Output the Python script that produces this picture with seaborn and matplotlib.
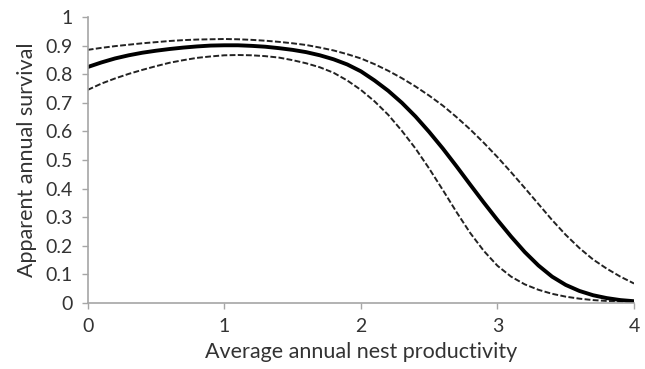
import matplotlib
matplotlib.use("Agg")
import matplotlib.pyplot as plt
import seaborn as sns
import pandas as pd

# Average annual nest productivity
productivity = [0.0, 0.1, 0.2, 0.3, 0.4, 0.5, 0.6, 0.7, 0.8, 0.9,
                1.0, 1.1, 1.2, 1.3, 1.4, 1.5, 1.6, 1.7, 1.8, 1.9,
                2.0, 2.1, 2.2, 2.3, 2.4, 2.5, 2.6, 2.7, 2.8, 2.9,
                3.0, 3.1, 3.2, 3.3, 3.4, 3.5, 3.6, 3.7, 3.8, 3.9, 4.0]
# Apparent annual survival: estimate
survival = [0.825, 0.841, 0.855, 0.866, 0.875, 0.882, 0.888, 0.893, 0.897, 0.900,
            0.901, 0.901, 0.899, 0.896, 0.891, 0.885, 0.877, 0.866, 0.852, 0.834,
            0.810, 0.778, 0.742, 0.700, 0.652, 0.598, 0.540, 0.478, 0.414, 0.351,
            0.290, 0.232, 0.178, 0.131, 0.092, 0.063, 0.042, 0.027, 0.017, 0.010, 0.006]
# Upper confidence bound
upper_ci = [0.885, 0.892, 0.898, 0.903, 0.908, 0.912, 0.916, 0.919, 0.921, 0.922,
            0.923, 0.922, 0.920, 0.917, 0.913, 0.908, 0.902, 0.893, 0.883, 0.870,
            0.855, 0.835, 0.812, 0.786, 0.757, 0.725, 0.690, 0.650, 0.607, 0.560,
            0.510, 0.457, 0.402, 0.346, 0.290, 0.238, 0.192, 0.152, 0.120, 0.092, 0.068]
# Lower confidence bound
lower_ci = [0.745, 0.767, 0.785, 0.801, 0.815, 0.828, 0.840, 0.849, 0.857, 0.862,
            0.866, 0.867, 0.866, 0.863, 0.858, 0.849, 0.838, 0.824, 0.805, 0.778,
            0.745, 0.705, 0.658, 0.602, 0.540, 0.470, 0.395, 0.318, 0.245, 0.182,
            0.130, 0.092, 0.065, 0.046, 0.032, 0.022, 0.015, 0.010, 0.007, 0.005, 0.003]

x_ticks = [0, 1, 2, 3, 4]
y_ticks = [0, 0.1, 0.2, 0.3, 0.4, 0.5, 0.6, 0.7, 0.8, 0.9, 1]
y_tick_labels = ["0", "0.1", "0.2", "0.3", "0.4", "0.5", "0.6", "0.7", "0.8", "0.9", "1"]

sns.set_style("white")
plt.rcParams['font.family'] = ['Lato', 'DejaVu Sans']

df = pd.DataFrame({"x": productivity, "est": survival, "up": upper_ci, "lo": lower_ci})

fig = plt.figure(figsize=(6.45, 3.69), dpi=100)
ax = fig.add_axes([0.136, 0.179, 0.847, 0.775])

dash = (0, (3, 1.2))
sns.lineplot(data=df, x="x", y="up", ax=ax, color="#222222", lw=1.4, linestyle=dash)
sns.lineplot(data=df, x="x", y="lo", ax=ax, color="#222222", lw=1.4, linestyle=dash)
sns.lineplot(data=df, x="x", y="est", ax=ax, color="black", lw=2.8)

ax.set_xlim(0, 4)
ax.set_ylim(0, 1)
ax.set_xticks(x_ticks)
ax.set_xticklabels([str(t) for t in x_ticks])
ax.set_yticks(y_ticks)
ax.set_yticklabels(y_tick_labels)

for side in ["top", "right"]:
    ax.spines[side].set_visible(False)
for side in ["left", "bottom"]:
    ax.spines[side].set_color("#a6a6a6")
    ax.spines[side].set_linewidth(1.2)

ax.tick_params(axis="both", which="major", direction="out", length=4, width=1,
               color="#a6a6a6", labelsize=14, labelcolor="#333333", pad=7,
               left=True, bottom=True)

ax.set_xlabel("Average annual nest productivity", fontsize=15.5, color="#333333", labelpad=5)
ax.set_ylabel("Apparent annual survival", fontsize=15.5, color="#333333", labelpad=6)

fig.savefig("out.png", dpi=100)
